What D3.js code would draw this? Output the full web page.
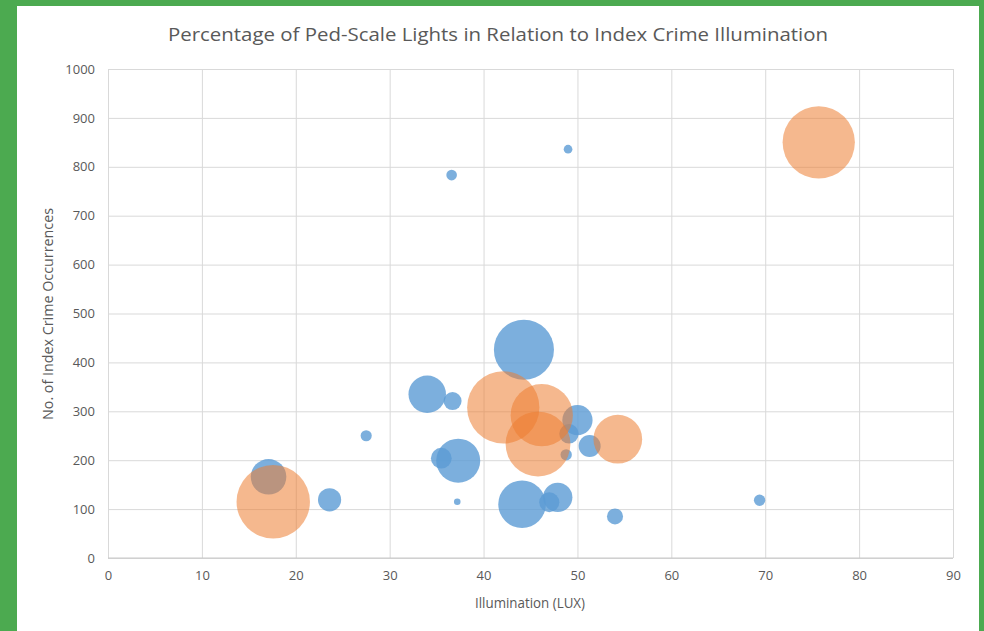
<!DOCTYPE html>
<html>
<head>
<meta charset="utf-8">
<script src="https://cdn.jsdelivr.net/npm/d3@7"></script>
<style>
  html, body { margin: 0; padding: 0; background: #4caa50; }
  svg { display: block; }
</style>
</head>
<body>
<svg id="chart" width="984" height="631"></svg>
<script>
// ---- data ----
const xTicks = [0, 10, 20, 30, 40, 50, 60, 70, 80, 90];
const yTicks = [0, 100, 200, 300, 400, 500, 600, 700, 800, 900, 1000];

// Series 1 (blue): illumination, crimes, bubble size
const blueX    = [44.3, 34.0, 36.7, 50.0, 49.1, 51.3, 48.8, 37.3, 35.5, 37.2, 44.1, 47.9, 47.0, 54.0, 17.1, 23.6, 27.5, 36.6, 49.0, 69.4];
const blueY    = [426, 335, 321, 282, 254, 229, 211, 199, 204, 115, 110, 124, 114, 85, 166, 119, 250, 783, 836, 118];
const blueSize = [67, 26, 6, 17, 7, 9, 2.4, 36, 8, 0.8, 42, 16, 7.5, 4.8, 23.5, 10, 2.3, 2.1, 1.4, 2.4];

// Series 2 (orange)
const orangeX    = [75.7, 17.6, 42.1, 46.2, 45.8, 54.3];
const orangeY    = [850, 115, 308, 292, 233, 243];
const orangeSize = [97, 100, 97, 72, 78, 44];

const title = "Percentage of Ped-Scale Lights in Relation to Index Crime Illumination";
const xTitle = "Illumination (LUX)";
const yTitle = "No. of Index Crime Occurrences";

// ---- layout ----
const svg = d3.select("#chart");
const frame = { left: 17, top: 6, right: 979, bottom: 631 };
const plot = { left: 108, top: 69, right: 953, bottom: 558 };
const font = "'Open Sans', 'Noto Sans', sans-serif";

svg.append("rect")
  .attr("x", frame.left).attr("y", frame.top)
  .attr("width", frame.right - frame.left).attr("height", frame.bottom - frame.top)
  .attr("fill", "#ffffff");

const x = d3.scaleLinear().domain([0, 90]).range([plot.left, plot.right]);
const y = d3.scaleLinear().domain([0, 1000]).range([plot.bottom, plot.top]);
const r = d3.scaleSqrt().domain([0, 100]).range([0, 36.7]);

// grid
const gx = svg.append("g")
  .attr("transform", `translate(0,${plot.bottom})`)
  .call(d3.axisBottom(x).tickValues(xTicks).tickSize(-(plot.bottom - plot.top)).tickFormat(""));
gx.select(".domain").remove();
gx.selectAll(".tick line").attr("stroke", "#d9d9d9").attr("stroke-width", 1);

const gy = svg.append("g")
  .attr("transform", `translate(${plot.left},0)`)
  .call(d3.axisLeft(y).tickValues(yTicks).tickSize(-(plot.right - plot.left)).tickFormat(""));
gy.select(".domain").remove();
gy.selectAll(".tick line").attr("stroke", "#d9d9d9").attr("stroke-width", 1);

// axis baseline
svg.append("line")
  .attr("x1", plot.left).attr("x2", plot.right)
  .attr("y1", y(0)).attr("y2", y(0))
  .attr("stroke", "#c8c8c8").attr("stroke-width", 1);

// tick labels
const ax = svg.append("g")
  .attr("transform", `translate(0,${plot.bottom})`)
  .call(d3.axisBottom(x).tickValues(xTicks).tickSize(0).tickPadding(13).tickFormat(d3.format("d")));
ax.select(".domain").remove();
ax.selectAll("text").attr("fill", "#595959").style("font-family", font).style("font-size", "13px");

const ay = svg.append("g")
  .attr("transform", `translate(${plot.left},0)`)
  .call(d3.axisLeft(y).tickValues(yTicks).tickSize(0).tickPadding(13).tickFormat(d3.format("d")));
ay.select(".domain").remove();
ay.selectAll("text").attr("fill", "#595959").style("font-family", font).style("font-size", "13px");

// bubbles
const blue = blueX.map((v, i) => ({ x: v, y: blueY[i], s: blueSize[i] }));
const orange = orangeX.map((v, i) => ({ x: v, y: orangeY[i], s: orangeSize[i] }));

svg.append("g").selectAll("circle").data(blue).join("circle")
  .attr("cx", d => x(d.x)).attr("cy", d => y(d.y)).attr("r", d => r(d.s))
  .attr("fill", "#5b9bd5").attr("fill-opacity", 0.8);

svg.append("g").selectAll("circle").data(orange).join("circle")
  .attr("cx", d => x(d.x)).attr("cy", d => y(d.y)).attr("r", d => r(d.s))
  .attr("fill", "#ed7d31").attr("fill-opacity", 0.55);

// titles
svg.append("text")
  .attr("x", 498).attr("y", 41)
  .attr("text-anchor", "middle")
  .attr("fill", "#595959")
  .style("font-family", font).style("font-size", "19px")
  .attr("textLength", 660).attr("lengthAdjust", "spacingAndGlyphs")
  .text(title);

svg.append("text")
  .attr("x", 530).attr("y", 608)
  .attr("text-anchor", "middle")
  .attr("fill", "#595959")
  .style("font-family", font).style("font-size", "14px")
  .attr("textLength", 110).attr("lengthAdjust", "spacingAndGlyphs")
  .text(xTitle);

svg.append("text")
  .attr("transform", `translate(53,314) rotate(-90)`)
  .attr("text-anchor", "middle")
  .attr("fill", "#595959")
  .style("font-family", font).style("font-size", "14px")
  .attr("textLength", 212).attr("lengthAdjust", "spacingAndGlyphs")
  .text(yTitle);
</script>
</body>
</html>
